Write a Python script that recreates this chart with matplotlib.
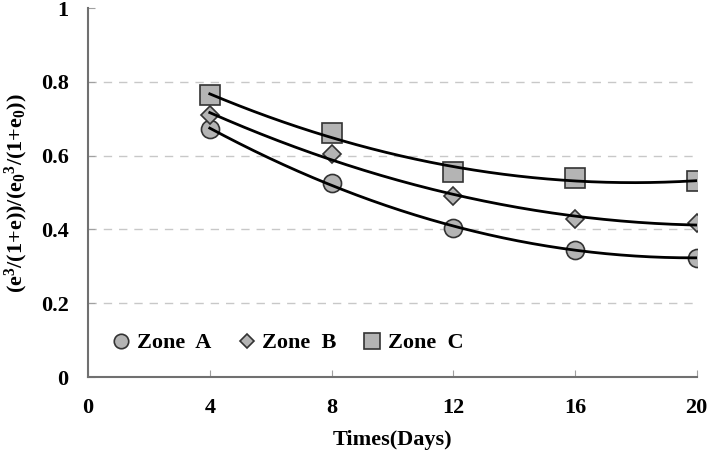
import numpy as np
import matplotlib
matplotlib.use("Agg")
import matplotlib.pyplot as plt

plt.rcParams['font.family'] = 'Liberation Serif'
plt.rcParams['font.weight'] = 'bold'
plt.rcParams['mathtext.fontset'] = 'custom'
plt.rcParams['mathtext.rm'] = 'Liberation Serif:bold'
plt.rcParams['mathtext.it'] = 'Liberation Serif:bold'
plt.rcParams['mathtext.default'] = 'rm'

days = [4, 8, 12, 16, 20]
zone_a = [0.672, 0.527, 0.404, 0.344, 0.324]
zone_b = [0.710, 0.604, 0.490, 0.428, 0.417]
zone_c = [0.764, 0.661, 0.556, 0.539, 0.531]
labels = ['Zone  A', 'Zone  B', 'Zone  C']
markers = ['o', 'D', 's']
msizes = [13, 9, 14]

fig = plt.figure(figsize=(7.16, 4.51), dpi=100)
ax = fig.add_axes([0.123, 0.164, 0.850, 0.818])

xs = np.linspace(days[0], days[-1], 200)
for vals, lab, m, ms in zip([zone_a, zone_b, zone_c], labels, markers, msizes):
    ax.plot(days, vals, linestyle='none', marker=m, markersize=ms,
            markerfacecolor='#b4b4b4', markeredgecolor='#333333',
            markeredgewidth=1.2, label=lab, zorder=3)
    # polynomial trendline
    coef = np.polyfit(days, vals, 2)
    ax.plot(xs, np.polyval(coef, xs), color='black', lw=2.0, zorder=4)

ax.set_xlim(0, 20)
ax.set_ylim(0, 1)
ax.set_xticks([0, 4, 8, 12, 16, 20])
ax.set_yticks([0, 0.2, 0.4, 0.6, 0.8, 1])
ax.set_yticklabels(['0', '0.2', '0.4', '0.6', '0.8', '1'])
for y in [0.2, 0.4, 0.6, 0.8]:
    ax.axhline(y, color='#c8c8c8', lw=1, dashes=(6, 5), zorder=1)

for s in ['top', 'right']:
    ax.spines[s].set_visible(False)
for s in ['left', 'bottom']:
    ax.spines[s].set_color('#707070')
    ax.spines[s].set_linewidth(1.5)
ax.tick_params(direction='in', length=5, color='#a0a0a0', labelsize=16)
ax.tick_params(axis='x', pad=15)
ax.tick_params(axis='y', pad=14)

ax.set_xlabel('Times(Days)', fontsize=16, fontweight='bold', labelpad=9)
ax.set_ylabel('(e$^3$/(1+e))/(e$_0$$^3$/(1+e$_0$))', fontsize=16,
              fontweight='bold', labelpad=8)

leg = ax.legend(loc='lower left', bbox_to_anchor=(0.0, 0.01), ncol=3,
                frameon=False, fontsize=16, handletextpad=0.1,
                columnspacing=1.0, handlelength=1.2, markerscale=0.8)

fig.savefig('out.png', dpi=100)
